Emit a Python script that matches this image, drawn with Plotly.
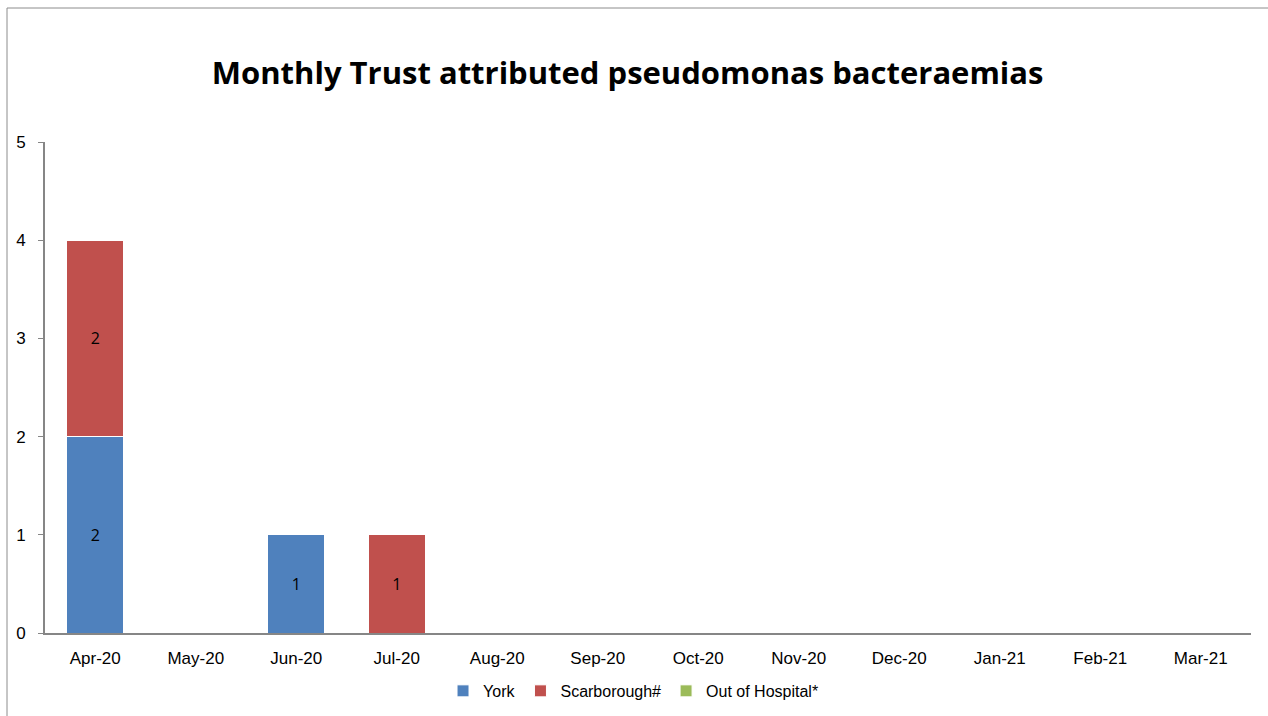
import plotly.graph_objects as go

months = ["Apr-20", "May-20", "Jun-20", "Jul-20", "Aug-20", "Sep-20",
          "Oct-20", "Nov-20", "Dec-20", "Jan-21", "Feb-21", "Mar-21"]
york = [2, 0, 1, 0, 0, 0, 0, 0, 0, 0, 0, 0]
scarborough = [2, 0, 0, 1, 0, 0, 0, 0, 0, 0, 0, 0]
out_of_hospital = [0, 0, 0, 0, 0, 0, 0, 0, 0, 0, 0, 0]

series = [
    ("York", york, "#4F81BD"),
    ("Scarborough#", scarborough, "#C0504D"),
    ("Out of Hospital*", out_of_hospital, "#9BBB59"),
]

fig = go.Figure()
for name, vals, color in series:
    fig.add_trace(go.Bar(
        x=months, y=vals, name=name,
        marker=dict(color=color, line=dict(color="white", width=1)),
        text=[str(v) if v else "" for v in vals],
        textposition="inside", insidetextanchor="middle",
        textfont=dict(family="Open Sans, sans-serif", size=16, color="black"),
        hoverinfo="x+y+name",
    ))

fig.update_layout(
    barmode="stack",
    bargap=0.43,
    width=1268, height=716,
    margin=dict(l=45, r=17, t=142, b=83, autoexpand=False),
    paper_bgcolor="white", plot_bgcolor="white",
    title=dict(text="<b>Monthly Trust attributed pseudomonas bacteraemias</b>",
               x=0.495, xanchor="center", y=0.898, yanchor="middle",
               font=dict(family="Open Sans, sans-serif", size=31, color="black")),
    font=dict(family="Liberation Sans, Arial, sans-serif", size=17, color="black"),
    uniformtext=dict(minsize=8, mode="show"),
    legend=dict(orientation="h", x=0.488, xanchor="center", y=-0.118, yanchor="middle",
                font=dict(family="Liberation Sans, Arial, sans-serif", size=16),
                itemwidth=30, traceorder="normal"),
    shapes=[dict(type="rect", xref="paper", yref="paper",
                 x0=-0.0315, x1=1.2, y0=-0.4, y1=1.2729,
                 line=dict(color="#8C8C8C", width=1), layer="below")],
)
fig.update_xaxes(showline=True, linecolor="#868686", linewidth=2,
                 ticks="outside", ticklen=9, tickcolor="rgba(0,0,0,0)",
                 showgrid=False, tickfont=dict(size=17))
fig.update_yaxes(range=[0, 5], dtick=1, showline=True, linecolor="#868686",
                 linewidth=2, ticks="outside", ticklen=5, tickcolor="#868686",
                 ticklabelstandoff=9,
                 showgrid=False, zeroline=False, tickfont=dict(size=17))

fig.write_html("out.html")
